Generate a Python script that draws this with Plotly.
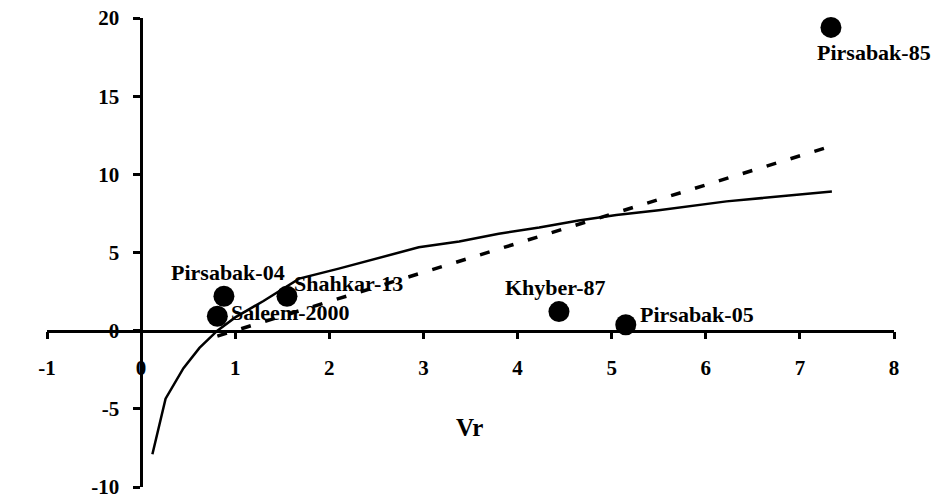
import plotly.graph_objects as go

# Genotype points
names = ["Saleem-2000", "Pirsabak-04", "Shahkar-13", "Khyber-87", "Pirsabak-05", "Pirsabak-85"]
vr = [0.81, 0.88, 1.55, 4.44, 5.15, 7.33]
wr = [0.92, 2.2, 2.2, 1.22, 0.38, 19.4]
# label offsets from the point (pixels: right, up)
label_dx = [73, 4, 62, -3, 71, 43]
label_dy = [4, 24, 13, 24, 10, -25]

# Solid curve
curve_x = [0.12, 0.26, 0.45, 0.62, 0.81, 1.0, 1.3, 1.68, 2.1, 2.5, 2.95, 3.38, 3.8, 4.23, 4.65, 5.05, 5.5, 6.22, 6.85, 7.34]
curve_y = [-7.9, -4.35, -2.4, -1.1, 0.0, 0.85, 1.9, 3.33, 3.97, 4.6, 5.33, 5.7, 6.2, 6.6, 7.05, 7.4, 7.7, 8.27, 8.65, 8.9]

# Dashed regression line endpoints
reg_x = [0.81, 7.33]
reg_y = [-0.35, 11.8]

x_ticks = [-1, 0, 1, 2, 3, 4, 5, 6, 7, 8]
y_ticks = [-10, -5, 0, 5, 10, 15, 20]

FONT = "Liberation Serif"

fig = go.Figure()
fig.add_trace(go.Scatter(x=curve_x, y=curve_y, mode="lines",
                         line=dict(color="black", width=2.5), showlegend=False, hoverinfo="skip"))
fig.add_trace(go.Scatter(x=reg_x, y=reg_y, mode="lines",
                         line=dict(color="black", width=3.5, dash="10px,15px"), showlegend=False, hoverinfo="skip"))
fig.add_trace(go.Scatter(x=vr, y=wr, mode="markers",
                         marker=dict(color="black", size=21),
                         showlegend=False, cliponaxis=False))

annotations = [
    dict(x=x, y=y, xref="x", yref="y", text="<b>%s</b>" % n, showarrow=False,
         xanchor="center", yanchor="middle", xshift=dx, yshift=dy,
         font=dict(family=FONT, size=22, color="black"))
    for n, x, y, dx, dy in zip(names, vr, wr, label_dx, label_dy)
]
annotations += [
    dict(x=3.49, y=-6.2, xref="x", yref="y", text="<b>Vr</b>", showarrow=False,
         font=dict(family=FONT, size=25, color="black")),
    dict(x=-1.24, y=10.9, xref="x", yref="y", text="<b>Wr</b>", showarrow=False, textangle=-90,
         font=dict(family=FONT, size=25, color="black")),
]

fig.update_layout(
    width=939, height=500,
    margin=dict(l=47, r=45, t=18, b=13, autoexpand=False),
    plot_bgcolor="white", paper_bgcolor="white",
    font=dict(family=FONT, size=21, color="black"),
    xaxis=dict(range=[-1, 8], tickvals=x_ticks, ticktext=["<b>%d</b>" % v for v in x_ticks],
               showgrid=False, zeroline=False, showline=True, linecolor="black", linewidth=2.5,
               ticks="outside", ticklen=7, tickwidth=2.5, tickcolor="black", automargin=False,
               anchor="free", position=1/3, side="bottom", ticklabelstandoff=10,
               ticklabeloverflow="allow",
               tickfont=dict(family=FONT, size=21, color="black")),
    yaxis=dict(range=[-10, 20], tickvals=y_ticks, ticktext=["<b>%d</b>" % v for v in y_ticks],
               showgrid=False, zeroline=False, showline=True, linecolor="black", linewidth=2.5,
               ticks="outside", ticklen=7, tickwidth=2.5, tickcolor="black", automargin=False,
               anchor="free", position=1/9, side="left", ticklabelstandoff=10,
               ticklabeloverflow="allow",
               tickfont=dict(family=FONT, size=21, color="black")),
    annotations=annotations,
)

fig.write_html("out.html", config={"displayModeBar": False},
               post_script="document.body.style.margin='0';document.body.style.overflow='hidden';")
